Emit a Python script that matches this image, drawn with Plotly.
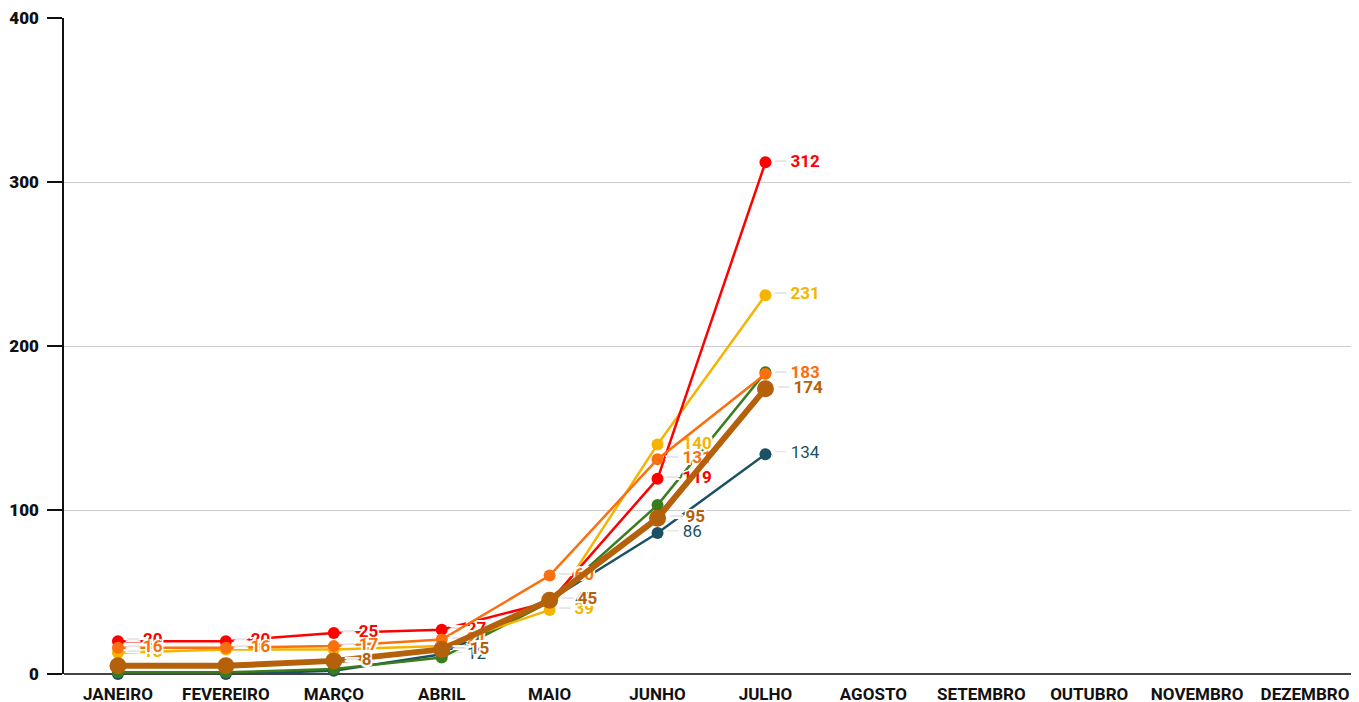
import plotly.graph_objects as go

months = ["JANEIRO", "FEVEREIRO", "MARÇO", "ABRIL", "MAIO", "JUNHO", "JULHO",
          "AGOSTO", "SETEMBRO", "OUTUBRO", "NOVEMBRO", "DEZEMBRO"]

teal = [0, 0, 2, 12, 45, 86, 134]
green = [1, 1, 3, 10, 44, 103, 184]
yellow = [13, 15, 15, 17, 39, 140, 231]
red = [20, 20, 25, 27, 44, 119, 312]
orange = [16, 16, 17, 21, 60, 131, 183]
brown = [5, 5, 8, 15, 45, 95, 174]

teal_show = [0, 0, 0, 1, 1, 1, 1]
green_show = [0, 0, 0, 0, 0, 0, 0]
yellow_show = [1, 0, 0, 0, 1, 1, 1]
red_show = [1, 1, 1, 1, 0, 1, 1]
orange_show = [1, 1, 1, 1, 1, 1, 1]
brown_show = [0, 0, 1, 1, 1, 1, 1]

series = [
    ("teal", teal, teal_show, "#1a5163", 2.5, 12, 400),
    ("green", green, green_show, "#3a7d1e", 2.5, 12, 700),
    ("yellow", yellow, yellow_show, "#f5b400", 2.5, 12, 700),
    ("red", red, red_show, "#ff0000", 2.5, 12, 700),
    ("orange", orange, orange_show, "#fa6f0e", 2.5, 12, 700),
    ("brown", brown, brown_show, "#b5600b", 6, 17, 700),
]

shadow = "-1.5px -1.5px 0 #fff, 1.5px -1.5px 0 #fff, -1.5px 1.5px 0 #fff, 1.5px 1.5px 0 #fff, 0 0 3px #fff"

fig = go.Figure()
for name, vals, show, color, lw, ms, wt in series:
    texts = [('<span style="color:#e6e6e6">—</span>\u2009' + str(v)) if s else ""
             for v, s in zip(vals, show)]
    fig.add_trace(go.Scatter(
        x=months[:len(vals)], y=vals, name=name,
        mode="lines+markers+text",
        line=dict(color=color, width=lw),
        marker=dict(color=color, size=ms),
        text=texts, textposition="middle right",
        textfont=dict(family="Roboto", size=17, color=color, weight=wt, shadow=shadow),
        cliponaxis=False,
        hoverinfo="x+y",
    ))

fig.update_layout(
    width=1351, height=694,
    margin=dict(l=56, r=0, t=10, b=28, autoexpand=False),
    plot_bgcolor="white", paper_bgcolor="white",
    showlegend=False,
    font=dict(family="Roboto", color="#111"),
    xaxis=dict(
        type="category", categoryorder="array", categoryarray=months,
        tickvals=months, range=[-0.5, 11.5],
        showgrid=False, zeroline=False, automargin=False,
        showline=False, ticks="", ticklabelstandoff=8,
        ticklabeloverflow="allow",
        tickfont=dict(family="Roboto", size=17, color="#111", weight=700),
    ),
    yaxis=dict(
        range=[0, 400], tickvals=[0, 100, 200, 300, 400], automargin=False,
        showgrid=True, gridcolor="#cccccc", gridwidth=1,
        zeroline=True, zerolinecolor="#444444", zerolinewidth=1.5,
        showline=True, linecolor="#111", linewidth=1.5,
        ticks="outside", ticklen=15, tickcolor="#111", tickwidth=1.5,
        ticklabelstandoff=5, ticklabeloverflow="allow",
        tickfont=dict(family="Roboto", size=17, color="#111", weight=900),
    ),
)

fig.write_html("out.html")
